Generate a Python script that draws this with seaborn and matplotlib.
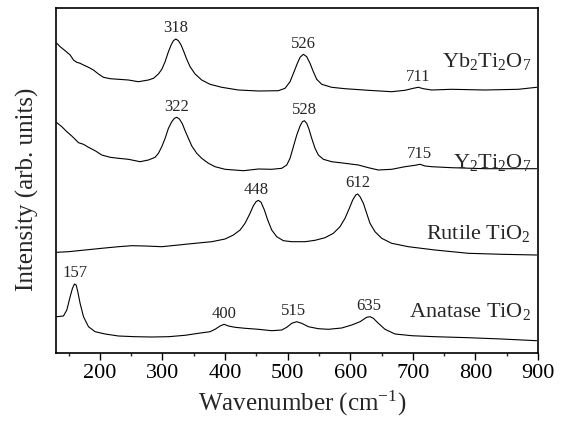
import numpy as np
import pandas as pd
import matplotlib
matplotlib.use("Agg")
import matplotlib.pyplot as plt
import seaborn as sns

# ---------------- data ----------------
yb_wn = [131.3, 136.6, 144.6, 152.6, 157.9, 163.2, 168.5, 173.9, 181.9, 189.8, 197.8, 205.8,
         216.5, 229.8, 245.7, 261.7, 277.7, 285.7, 293.6, 299.0, 304.3, 309.6, 313.9, 317.6,
         321.3, 325.6, 329.8, 333.6, 338.9, 344.2, 352.2, 362.8, 376.1, 394.8, 421.4, 453.3,
         485.3, 495.9, 503.9, 510.3, 515.6, 519.9, 525.2, 530.5, 535.8, 541.1, 546.5, 554.5,
         570.4, 591.7, 629.0, 666.2, 687.5, 700.8, 708.8, 716.8, 730.1, 762.1, 815.3, 868.5, 897.8]
yb_int = [309.4, 306.0, 302.0, 297.7, 292.7, 290.4, 289.4, 287.7, 285.4, 282.7, 278.7, 275.4,
          274.0, 273.4, 272.7, 271.0, 272.7, 274.4, 278.7, 283.4, 291.0, 301.0, 307.7, 312.0,
          313.7, 312.0, 307.7, 302.0, 293.4, 286.0, 278.7, 272.7, 268.4, 265.4, 262.7, 261.7,
          262.0, 264.4, 271.0, 281.0, 289.4, 295.4, 298.4, 296.0, 289.4, 281.0, 273.4, 268.4,
          265.4, 264.0, 262.4, 261.0, 262.4, 264.4, 265.4, 264.0, 262.7, 263.4, 262.7, 263.4, 265.4]

y_wn = [131.3, 139.3, 147.3, 155.2, 160.6, 165.9, 173.9, 181.9, 192.5, 203.1, 216.5, 229.8,
        245.7, 264.4, 277.7, 288.3, 293.6, 299.0, 304.3, 309.6, 314.9, 319.2, 322.9, 327.2,
        332.0, 336.2, 341.5, 346.9, 354.8, 362.8, 373.5, 384.1, 400.1, 429.4, 453.3, 474.6,
        490.6, 498.6, 503.9, 509.2, 514.6, 519.9, 523.6, 526.8, 530.5, 534.2, 538.5, 543.8,
        549.1, 557.1, 570.4, 591.7, 613.0, 629.0, 645.0, 666.2, 687.5, 703.5, 711.5, 719.5,
        730.1, 762.1, 815.3, 868.5, 897.8]
y_int = [230.0, 226.0, 221.0, 216.7, 213.4, 210.0, 208.4, 205.4, 202.0, 197.7, 195.4, 194.4,
         193.4, 191.0, 192.7, 195.4, 199.4, 206.0, 214.4, 224.4, 231.0, 234.4, 235.4, 233.7,
         228.7, 222.0, 214.4, 206.7, 199.4, 194.4, 189.4, 186.0, 183.4, 182.0, 183.7, 183.4,
         184.4, 187.7, 194.4, 206.0, 217.7, 226.7, 231.0, 232.0, 229.4, 223.4, 214.4, 204.4,
         197.7, 193.4, 191.0, 189.4, 187.7, 185.0, 182.7, 183.4, 186.0, 187.4, 188.4, 186.7,
         186.0, 185.0, 184.0, 184.0, 184.0]

rut_wn = [131.3, 149.9, 176.5, 203.1, 229.8, 251.1, 272.3, 299.0, 325.6, 352.2, 378.8, 400.1,
          413.4, 424.1, 432.0, 440.0, 445.3, 449.6, 453.3, 457.6, 462.9, 468.2, 474.6, 482.6,
          493.3, 506.6, 527.8, 543.8, 559.8, 573.1, 583.7, 591.7, 598.6, 604.0, 608.8, 612.0,
          615.7, 621.0, 626.3, 631.6, 639.6, 650.3, 666.2, 692.9, 735.4, 788.7, 841.9, 897.8]
rut_int = [100.4, 101.0, 102.7, 104.4, 106.0, 107.0, 106.7, 106.0, 107.7, 109.4, 111.0, 113.7,
           117.7, 122.7, 129.4, 139.4, 147.0, 151.0, 152.4, 150.4, 142.7, 132.7, 122.7, 116.0,
           112.0, 111.0, 111.0, 112.4, 115.0, 119.4, 126.0, 134.4, 144.4, 152.7, 157.7, 158.7,
           156.0, 149.4, 139.4, 129.4, 121.0, 114.4, 109.4, 106.0, 102.7, 99.4, 98.4, 97.7]

ana_wn = [131.3, 141.9, 147.3, 152.6, 156.3, 159.5, 162.2, 164.8, 168.5, 173.9, 181.9, 192.5,
          208.5, 229.8, 256.4, 283.0, 309.6, 336.2, 357.5, 376.1, 384.1, 392.1, 398.5, 405.4,
          416.0, 432.0, 453.3, 474.6, 490.6, 498.6, 506.6, 514.6, 522.5, 533.2, 549.1, 565.1,
          586.4, 602.4, 615.7, 626.3, 631.6, 637.0, 645.0, 655.6, 671.6, 698.2, 735.4, 788.7,
          841.9, 897.8]
ana_int = [36.0, 36.7, 42.7, 56.0, 64.4, 68.7, 67.7, 61.0, 49.4, 36.0, 26.0, 21.0,
           18.7, 16.7, 16.0, 15.7, 16.0, 17.4, 19.4, 21.0, 23.4, 26.7, 28.4, 26.7,
           25.4, 24.4, 23.4, 22.0, 22.7, 25.4, 29.4, 31.0, 29.4, 26.0, 24.0, 23.4,
           24.7, 27.7, 31.0, 35.4, 36.0, 34.4, 29.4, 23.4, 18.7, 17.0, 16.0, 15.0,
           13.7, 12.0]

sample_names = ["Yb$_2$Ti$_2$O$_7$", "Y$_2$Ti$_2$O$_7$", "Rutile TiO$_2$", "Anatase TiO$_2$"]
name_levels = [286.0, 185.0, 114.0, 35.5]
peak_labels = [["318", "526", "711"], ["322", "528", "715"], ["448", "612"],
               ["157", "400", "515", "635"]]
peak_label_x = [[321, 525, 709], [323, 527, 711], [450, 612], [160, 399, 510, 630]]

x_ticks = [200, 300, 400, 500, 600, 700, 800, 900]

# ---------------- style ----------------
sns.set_style("ticks")
plt.rcParams["font.family"] = ["Liberation Serif", "DejaVu Serif"]
plt.rcParams["mathtext.fontset"] = "custom"
plt.rcParams["mathtext.rm"] = "Liberation Serif"
plt.rcParams["mathtext.it"] = "Liberation Serif:italic"
plt.rcParams["mathtext.default"] = "regular"

fig = plt.figure(figsize=(5.61, 4.23), dpi=100)
ax = fig.add_axes([56 / 561, 1 - 352.7 / 423, (538 - 56) / 561, (352.7 - 8) / 423])

spectra = [(yb_wn, yb_int), (y_wn, y_int), (rut_wn, rut_int), (ana_wn, ana_int)]
frames = []
for name, (wn, it) in zip(sample_names, spectra):
    frames.append(pd.DataFrame({"wn": wn, "I": it, "sample": name}))
df = pd.concat(frames, ignore_index=True)

sns.lineplot(data=df, x="wn", y="I", units="sample", estimator=None, color="black",
             linewidth=0.8, ax=ax, legend=False, sort=True)

# peak annotations
for (wn, it), labs, lx in zip(spectra, peak_labels, peak_label_x):
    wn_a = np.array(wn)
    it_a = np.array(it)
    for lab, x0 in zip(labs, lx):
        m = np.abs(wn_a - x0) <= 12
        j = np.argmax(np.where(m, it_a, -np.inf))
        ax.annotate(lab, xy=(x0, it_a[j]), xytext=(0, 2), textcoords="offset points",
                    ha="center", va="bottom", fontsize=12)

# sample names
for name, lev in zip(sample_names, name_levels):
    ax.text(889, lev, name, ha="right", va="baseline", fontsize=16)

ax.set_xlim(130, 900)
ax.set_ylim(0, 344.7)
ax.set_xticks(x_ticks)
ax.set_xticks(np.arange(150, 900, 100), minor=True)
ax.set_yticks([])
ax.tick_params(axis="x", which="major", direction="out", length=5, width=1, labelsize=16,
               bottom=True, top=False, pad=3, color="black", labelcolor="black")
ax.tick_params(axis="x", which="minor", direction="out", length=2.5, width=1, bottom=True, top=False)
for s in ax.spines.values():
    s.set_visible(True)
    s.set_linewidth(1.2)
    s.set_color("black")
ax.set_xlabel("Wavenumber (cm$^{-1}$)", fontsize=18, labelpad=4)
ax.set_ylabel("Intensity (arb. units)", fontsize=18, labelpad=12)
ax.xaxis.label.set_x(0.51)
ax.yaxis.label.set_y(0.475)

fig.savefig("out.png", dpi=100)
